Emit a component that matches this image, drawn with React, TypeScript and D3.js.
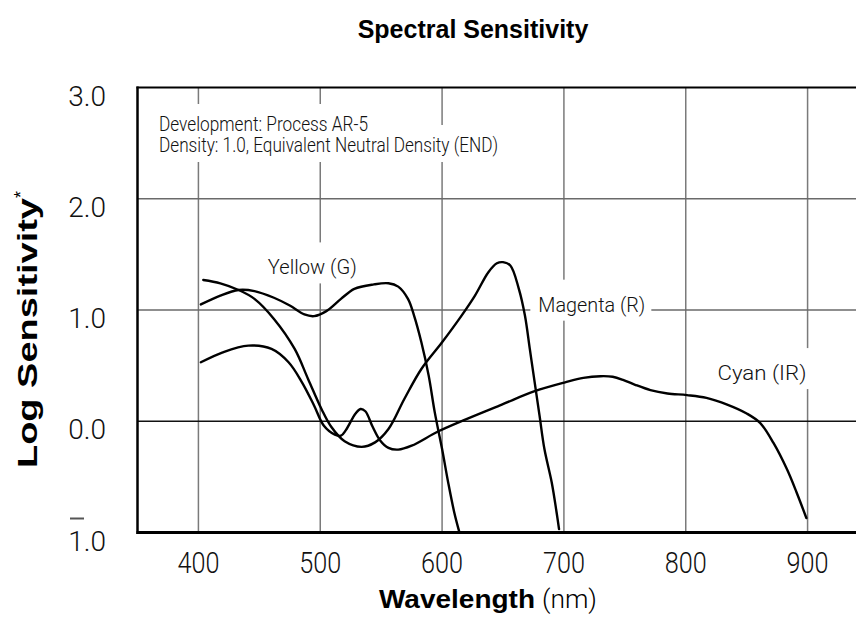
import React, { useEffect, useRef } from 'react';
import * as d3 from 'd3';

const W = 856;
const H = 622;

// Yellow (G) layer
const yellowWl = [402, 418, 433, 446, 462, 475, 487, 495, 505, 517, 528, 544, 556, 564, 572, 577, 583, 589, 594, 600, 605, 610, 614];
const yellowVal = [1.05, 1.13, 1.18, 1.17, 1.11, 1.04, 0.96, 0.945, 0.99, 1.1, 1.19, 1.23, 1.24, 1.21, 1.1, 0.95, 0.71, 0.41, 0.08, -0.25, -0.55, -0.82, -0.99];

// Magenta (R) layer
const magentaWl = [404, 418, 433, 446, 462, 479, 490, 501, 509, 520, 534, 545, 556, 569, 583, 600, 616, 627, 638, 645, 650, 656, 663, 668, 672, 676, 680, 684, 690, 694, 696];
const magentaVal = [1.27, 1.24, 1.18, 1.1, 0.92, 0.65, 0.38, 0.11, -0.05, -0.18, -0.23, -0.19, -0.07, 0.2, 0.47, 0.71, 0.95, 1.13, 1.34, 1.42, 1.43, 1.4, 1.19, 0.95, 0.65, 0.35, 0.05, -0.25, -0.55, -0.82, -0.97];

// Cyan (IR) layer
const cyanWl = [402, 420, 441, 460, 474, 485, 495, 503, 512, 517, 521, 529, 533, 537, 543, 549, 556, 564, 575, 597, 620, 649, 676, 701, 716, 730, 740, 749, 758, 771, 785, 801, 817, 834, 850, 861, 872, 883, 891, 899];
const cyanVal = [0.53, 0.62, 0.68, 0.65, 0.53, 0.35, 0.14, -0.04, -0.12, -0.13, -0.08, 0.07, 0.11, 0.09, -0.05, -0.17, -0.24, -0.255, -0.22, -0.09, 0.02, 0.15, 0.27, 0.35, 0.39, 0.405, 0.4, 0.37, 0.33, 0.28, 0.25, 0.235, 0.21, 0.15, 0.07, -0.015, -0.195, -0.43, -0.64, -0.87];

const xTicks = [400, 500, 600, 700, 800, 900];
const xTickLabels = ['400', '500', '600', '700', '800', '900'];
const yTicks = [3, 2, 1, 0, -1];
const yTickLabels = ['3.0', '2.0', '1.0', '0.0', '1.0'];
const yGrid = [2, 1, 0];

const seriesNames = ['Yellow (G)', 'Magenta (R)', 'Cyan (IR)'];
const noteLines = ['Development: Process AR-5', 'Density: 1.0, Equivalent Neutral Density (END)'];

export default function App() {
  const ref = useRef<SVGSVGElement>(null);

  useEffect(() => {
    const svg = d3.select(ref.current);
    svg.selectAll('*').remove();

    const x = d3.scaleLinear().domain([350, 950]).range([137.5, 868.5]);
    const y = d3.scaleLinear().domain([-1, 3]).range([532.5, 87.5]);

    const lightFont = 'Roboto, "Liberation Sans", Arial, sans-serif';
    const boldFont = '"Liberation Sans", Arial, sans-serif';

    // Title
    svg.append('text')
      .attr('x', 473).attr('y', 38)
      .attr('text-anchor', 'middle')
      .attr('font-family', boldFont).attr('font-weight', 'bold').attr('font-size', 25)
      .attr('fill', '#000')
      .text('Spectral Sensitivity');

    // Vertical gridlines
    svg.append('g').selectAll('line').data(xTicks).join('line')
      .attr('x1', d => x(d)).attr('x2', d => x(d))
      .attr('y1', y(3)).attr('y2', y(-1))
      .attr('stroke', '#7a7a7a').attr('stroke-width', 1.5);

    // Horizontal gridlines
    svg.append('g').selectAll('line').data(yGrid).join('line')
      .attr('x1', x(350)).attr('x2', W)
      .attr('y1', d => y(d)).attr('y2', d => y(d))
      .attr('stroke', d => (d === 0 ? '#111' : '#6a6a6a'))
      .attr('stroke-width', 1.3);

    // Note block with white background
    const noteX = 159;
    const noteBase = [131, 152];
    const noteLen = [209, 339];
    noteLines.forEach((t, i) => {
      svg.append('rect')
        .attr('x', noteX - 5).attr('y', noteBase[i] - 27)
        .attr('width', noteLen[i] + 10).attr('height', 37)
        .attr('fill', '#fff');
    });
    noteLines.forEach((t, i) => {
      svg.append('text')
        .attr('x', noteX).attr('y', noteBase[i])
        .attr('font-family', lightFont).attr('font-weight', 300).attr('font-size', 19.5)
        .attr('textLength', noteLen[i]).attr('lengthAdjust', 'spacingAndGlyphs')
        .attr('fill', '#111')
        .text(t);
    });

    // Series labels
    const labelPos = [
      { wl: 493.5, v: 1.32, len: 89, anchor: 'middle' },
      { wl: 679, v: 0.985, len: 107, anchor: 'start' },
      { wl: 826, v: 0.37, len: 89, anchor: 'start' },
    ];
    seriesNames.forEach((name, i) => {
      const p = labelPos[i];
      const lx = x(p.wl);
      const left = p.anchor === 'middle' ? lx - p.len / 2 : lx;
      svg.append('rect')
        .attr('x', left - 8).attr('y', y(p.v) - 32)
        .attr('width', p.len + 14).attr('height', 41)
        .attr('fill', '#fff');
    });

    // Curves
    const line = d3.line<[number, number]>()
      .x(d => x(d[0])).y(d => y(d[1]))
      .curve(d3.curveCatmullRom.alpha(0.5));
    const series = [
      d3.zip(yellowWl, yellowVal),
      d3.zip(magentaWl, magentaVal),
      d3.zip(cyanWl, cyanVal),
    ] as [number, number][][];
    svg.append('g').selectAll('path').data(series).join('path')
      .attr('d', d => line(d))
      .attr('fill', 'none').attr('stroke', '#000')
      .attr('stroke-width', 2.4)
      .attr('stroke-linejoin', 'round').attr('stroke-linecap', 'round');

    seriesNames.forEach((name, i) => {
      const p = labelPos[i];
      svg.append('text')
        .attr('x', x(p.wl)).attr('y', y(p.v))
        .attr('text-anchor', p.anchor)
        .attr('font-family', lightFont).attr('font-weight', 300).attr('font-size', 21)
        .attr('textLength', p.len).attr('lengthAdjust', 'spacingAndGlyphs')
        .attr('fill', '#111')
        .text(name);
    });

    // Frame
    svg.append('line').attr('x1', x(350)).attr('x2', x(350)).attr('y1', y(3) - 1).attr('y2', y(-1) + 1.5)
      .attr('stroke', '#000').attr('stroke-width', 2.5);
    svg.append('line').attr('x1', x(350) - 1).attr('x2', W + 10).attr('y1', y(3)).attr('y2', y(3))
      .attr('stroke', '#000').attr('stroke-width', 2.2);
    svg.append('line').attr('x1', x(350) - 1).attr('x2', W + 10).attr('y1', y(-1)).attr('y2', y(-1))
      .attr('stroke', '#000').attr('stroke-width', 3);

    // X tick labels
    svg.append('g').selectAll('text').data(xTicks).join('text')
      .attr('x', d => x(d)).attr('y', 573)
      .attr('text-anchor', 'middle')
      .attr('font-family', lightFont).attr('font-weight', 300).attr('font-size', 29)
      .attr('textLength', 42).attr('lengthAdjust', 'spacingAndGlyphs')
      .attr('fill', '#111')
      .text((d, i) => xTickLabels[i]);

    // Y tick labels
    svg.append('g').selectAll('text').data(yTicks).join('text')
      .attr('x', 106).attr('y', d => y(d) + 18)
      .attr('text-anchor', 'end')
      .attr('font-family', lightFont).attr('font-weight', 300).attr('font-size', 28)
      .attr('fill', '#111')
      .text((d, i) => yTickLabels[i]);
    // bar over the "1" of the -1 label (bar notation)
    svg.append('line')
      .attr('x1', 70).attr('x2', 84).attr('y1', y(-1) - 14).attr('y2', y(-1) - 14)
      .attr('stroke', '#555').attr('stroke-width', 2);

    // X axis title
    const xt = svg.append('text').attr('y', 608).attr('font-size', 25).attr('fill', '#000');
    xt.append('tspan').attr('x', 379)
      .attr('font-family', boldFont).attr('font-weight', 'bold')
      .attr('textLength', 156).attr('lengthAdjust', 'spacingAndGlyphs')
      .text('Wavelength');
    xt.append('tspan').attr('x', 542)
      .attr('font-family', lightFont).attr('font-weight', 300)
      .attr('textLength', 55).attr('lengthAdjust', 'spacingAndGlyphs')
      .text('(nm)');

    // Y axis title
    const yt = svg.append('text')
      .attr('transform', 'translate(37,468) rotate(-90)')
      .attr('font-family', boldFont).attr('font-weight', 'bold').attr('font-size', 27)
      .attr('fill', '#000');
    yt.append('tspan').attr('textLength', 270).attr('lengthAdjust', 'spacingAndGlyphs').text('Log Sensitivity');
    yt.append('tspan').attr('font-size', 18).attr('font-weight', 'normal').attr('dy', -10).text('*');
  }, []);

  return (
    <div style={{ position: 'absolute', left: 0, top: 0 }}>
      <svg ref={ref} width={W} height={H} />
    </div>
  );
}
